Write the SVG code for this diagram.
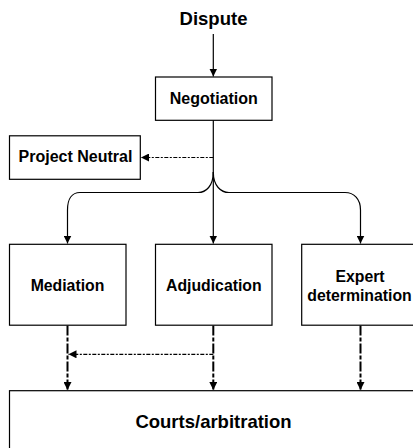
<svg xmlns="http://www.w3.org/2000/svg" width="413" height="448" viewBox="0 0 413 448">
<style>
.box{fill:#fff;stroke:#000;stroke-width:1.2}
.t{font-family:"Liberation Sans",Arial,sans-serif;font-weight:bold;fill:#000;text-anchor:middle}
.s{fill:none;stroke:#000;stroke-width:1.2}
.dv{fill:none;stroke:#000;stroke-width:2;stroke-dasharray:10 2 4 2}
.dh{fill:none;stroke:#000;stroke-width:1.2;stroke-dasharray:4 1.5 2 1.5}
</style>
<defs>
<marker id="ah" viewBox="0 0 10 10" refX="10" refY="5" markerWidth="8" markerHeight="8" markerUnits="userSpaceOnUse" orient="auto">
<path d="M0,0 L10,5 L0,10 Z" fill="#000"/>
</marker>
</defs>
<rect width="413" height="448" fill="#fff"/>
<g id="connectors">
<line class="s" x1="213.3" y1="34" x2="213.3" y2="76.5" marker-end="url(#ah)"/>
<line class="s" x1="213.3" y1="120" x2="213.3" y2="243.5" marker-end="url(#ah)"/>
<line class="dh" x1="213.3" y1="157.5" x2="141" y2="157.5" marker-end="url(#ah)"/>
<path class="s" d="M213.3,172 C213.3,186 206,192.5 198,192.5 L80,192.5 C72,192.5 67.5,199 67.5,210 L67.5,243.5" marker-end="url(#ah)"/>
<path class="s" d="M213.3,172 C213.3,186 221,192.5 229,192.5 L345,192.5 C354,192.5 360.5,199 360.5,210 L360.5,243.5" marker-end="url(#ah)"/>
<line class="dv" x1="67.5" y1="325.5" x2="67.5" y2="390" marker-end="url(#ah)"/>
<line class="dv" x1="213.3" y1="325.5" x2="213.3" y2="390" marker-end="url(#ah)"/>
<line class="dv" x1="360.5" y1="325.5" x2="360.5" y2="390" marker-end="url(#ah)"/>
<line class="dh" x1="213.3" y1="354.3" x2="68.5" y2="354.3" marker-end="url(#ah)"/>
</g>
<g id="dispute"><text class="t" x="213.5" y="25" font-size="18.5">Dispute</text></g>
<g id="negotiation"><rect class="box" x="155.5" y="77" width="116.5" height="43.3"/><text class="t" x="213.8" y="104.3" font-size="16">Negotiation</text></g>
<g id="project-neutral"><rect class="box" x="9.5" y="135.8" width="130.8" height="43.5"/><text class="t" x="75.5" y="162.3" font-size="16">Project Neutral</text></g>
<g id="mediation"><rect class="box" x="9.5" y="244.3" width="116.5" height="80.9"/><text class="t" x="67.5" y="290.6" font-size="15.8">Mediation</text></g>
<g id="adjudication"><rect class="box" x="155.5" y="244.3" width="116.5" height="80.9"/><text class="t" x="213.8" y="290.6" font-size="15.8">Adjudication</text></g>
<g id="expert"><rect class="box" x="301.7" y="244.3" width="116.5" height="80.9"/><text class="t" x="360" y="282.3" font-size="15.8">Expert</text><text class="t" x="359.5" y="301" font-size="15.8">determination</text></g>
<g id="courts"><rect class="box" x="9.5" y="390.7" width="420" height="80"/><text class="t" x="213.5" y="427.5" font-size="18.5">Courts/arbitration</text></g>
</svg>
